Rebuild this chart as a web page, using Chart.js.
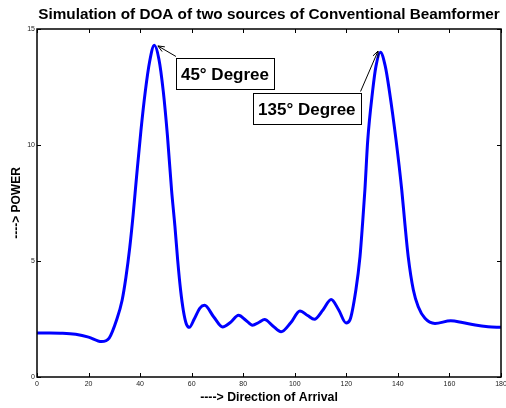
<!DOCTYPE html>
<html>
<head>
<meta charset="utf-8">
<script src="https://cdn.jsdelivr.net/npm/chart.js@4/dist/chart.umd.min.js"></script>
<style>
  body { margin: 0; background: #fff; }
</style>
</head>
<body>
<canvas id="c" width="506" height="408"></canvas>
<script>
// Simulation of DOA of two sources (conventional beamformer)
const FONT = "Arial, 'Liberation Sans', sans-serif";

const angles = [0, 5, 10, 15, 20, 25, 28, 31, 33, 34.5, 36, 37.3, 38.6, 40.3, 42.0, 43.7, 45.5,
  47.3, 49.0, 50.6, 52.2, 53.5, 54.6, 55.7, 56.8, 57.9, 59.1, 61, 63.2, 65, 68.5, 72, 75, 78.2, 81,
  83.6, 86, 88.3, 91.5, 94.7, 98.5, 102, 105, 107.6, 111, 114.1, 117, 119.9, 121.4, 123.7, 125.3,
  126.3, 127.2, 128.3, 130.2, 131.5, 133.2, 135.1, 136.7, 139.3, 141.5, 142.7, 144.0, 146.0, 147.9,
  150.5, 154.4, 160.5, 165, 170, 175, 180];
const power = [1.9, 1.9, 1.89, 1.84, 1.72, 1.53, 1.68, 2.5, 3.3, 4.3, 5.6, 7.0, 8.6, 10.6, 12.3, 13.6, 14.3,
  13.7, 12.3, 10.4, 8.06, 6.5, 5.0, 3.75, 2.85, 2.3, 2.14, 2.5, 2.97, 3.09, 2.6, 2.16, 2.35, 2.66, 2.45,
  2.23, 2.35, 2.48, 2.2, 1.95, 2.35, 2.85, 2.65, 2.49, 2.9, 3.34, 2.9, 2.33, 2.46, 3.75, 5.19,
  6.62, 8.06, 10.2, 12.33, 13.4, 14.0, 13.4, 12.33, 10.2, 8.06, 6.62, 5.19, 3.75, 3.03,
  2.53, 2.31, 2.42, 2.35, 2.24, 2.17, 2.14];

const xTicks = [0, 20, 40, 60, 80, 100, 120, 140, 160, 180];
const yTicks = [0, 5, 10, 15];

const titleText = 'Simulation of DOA of two sources of Conventional Beamformer';
const xTitle = '----> Direction of Arrival';
const yTitle = '----> POWER';

// annotations: label text, box top-left (data units), arrow tip (data units)
const labels = ['45° Degree', '135° Degree'];
const labelAt = [[53.9, 13.73], [83.8, 12.22]];
const arrowTip = [[46.9, 14.27], [132.3, 14.05]];

const frame = {
  id: 'frame',
  afterDraw(chart) {
    const { ctx, chartArea: a, scales: { x, y } } = chart;
    ctx.save();
    // box
    ctx.strokeStyle = '#000';
    ctx.lineWidth = 1.5;
    ctx.strokeRect(a.left, a.top, a.right - a.left, a.bottom - a.top);
    // inward ticks on all four sides
    ctx.lineWidth = 1;
    ctx.beginPath();
    xTicks.forEach(v => {
      const px = Math.round(x.getPixelForValue(v)) + 0.5;
      ctx.moveTo(px, a.bottom); ctx.lineTo(px, a.bottom - 4);
      ctx.moveTo(px, a.top); ctx.lineTo(px, a.top + 4);
    });
    yTicks.forEach(v => {
      const py = Math.round(y.getPixelForValue(v)) + 0.5;
      ctx.moveTo(a.left, py); ctx.lineTo(a.left + 4, py);
      ctx.moveTo(a.right, py); ctx.lineTo(a.right - 4, py);
    });
    ctx.stroke();

    // title
    ctx.fillStyle = '#000';
    ctx.font = 'bold 15.3px ' + FONT;
    ctx.textAlign = 'center';
    ctx.textBaseline = 'middle';
    ctx.fillText(titleText, (a.left + a.right) / 2, 15);

    // labels with arrows
    ctx.font = 'bold 17px ' + FONT;
    labels.forEach((t, i) => {
      const bx = x.getPixelForValue(labelAt[i][0]);
      const by = y.getPixelForValue(labelAt[i][1]);
      const w = ctx.measureText(t).width + 10;
      const h = 31;
      const tx = x.getPixelForValue(arrowTip[i][0]);
      const ty = y.getPixelForValue(arrowTip[i][1]);
      const sx = i === 0 ? bx : bx + w;
      const sy = by - 2;
      ctx.fillStyle = '#fff';
      ctx.fillRect(bx, by, w, h);
      ctx.strokeStyle = '#000';
      ctx.lineWidth = 1;
      ctx.strokeRect(Math.round(bx) + 0.5, Math.round(by) + 0.5, Math.round(w), h);
      ctx.fillStyle = '#000';
      ctx.textAlign = 'left';
      ctx.fillText(t, bx + 5, by + h / 2 + 1);
      // arrow
      ctx.beginPath();
      ctx.moveTo(sx, sy); ctx.lineTo(tx, ty);
      const ang = Math.atan2(ty - sy, tx - sx);
      ctx.moveTo(tx, ty); ctx.lineTo(tx - 7 * Math.cos(ang - 0.4), ty - 7 * Math.sin(ang - 0.4));
      ctx.moveTo(tx, ty); ctx.lineTo(tx - 7 * Math.cos(ang + 0.4), ty - 7 * Math.sin(ang + 0.4));
      ctx.stroke();
    });
    ctx.restore();
  }
};

new Chart(document.getElementById('c'), {
  type: 'line',
  data: {
    datasets: [{
      data: angles.map((a, i) => ({ x: a, y: power[i] })),
      borderColor: '#0000ff',
      borderWidth: 3,
      pointRadius: 0,
      cubicInterpolationMode: 'monotone',
      fill: false,
    }],
  },
  options: {
    responsive: false,
    animation: false,
    layout: { padding: { top: 29, right: 5, left: 0, bottom: 0 } },
    plugins: { legend: { display: false }, tooltip: { enabled: false } },
    scales: {
      x: {
        type: 'linear', min: 0, max: 180,
        afterFit: s => { s.height = 31; s.paddingRight = 0; s.paddingLeft = 0; },
        afterBuildTicks: s => { s.ticks = xTicks.map(v => ({ value: v })); },
        grid: { display: false, drawTicks: false },
        border: { display: false },
        ticks: { color: '#222', font: { family: FONT, size: 7 }, padding: 3, maxRotation: 0 },
        title: { display: true, text: xTitle, color: '#000', font: { family: FONT, size: 12.3, weight: 'bold' }, padding: { top: 0, bottom: 3 } },
      },
      y: {
        min: 0, max: 15,
        afterFit: s => { s.width = 37; },
        afterBuildTicks: s => { s.ticks = yTicks.map(v => ({ value: v })); },
        grid: { display: false, drawTicks: false },
        border: { display: false },
        ticks: { color: '#222', font: { family: FONT, size: 7 }, padding: 2 },
        title: { display: true, text: yTitle, color: '#000', font: { family: FONT, size: 12, weight: 'bold' }, padding: { top: 9, bottom: 0 } },
      },
    },
  },
  plugins: [frame],
});
</script>
</body>
</html>
